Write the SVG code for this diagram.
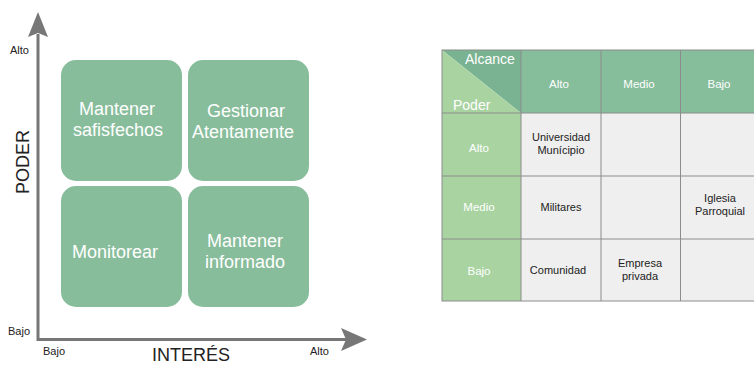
<svg xmlns="http://www.w3.org/2000/svg" width="754" height="365" viewBox="0 0 754 365">
<style>
.box{fill:#88bd9c}
.bt{fill:#ffffff;font-family:"Liberation Sans",Arial,sans-serif;font-size:18px;text-anchor:middle}
.ax{font-family:"Liberation Sans",Arial,sans-serif;font-size:11px;fill:#222}
.title{font-family:"Liberation Sans",Arial,sans-serif;font-size:18px;fill:#222}
.hdr{fill:#86bd9b}
.rh{fill:#a9d4a2}
.cell{fill:#efefef}
.grid{stroke:#8c8c8c;stroke-width:1;fill:none}
.ht{fill:#ffffff;font-family:"Liberation Sans",Arial,sans-serif;font-size:11.5px;text-anchor:middle}
.ct{fill:#222;font-family:"Liberation Sans",Arial,sans-serif;font-size:11px;text-anchor:middle}
.cr{fill:#ffffff;font-family:"Liberation Sans",Arial,sans-serif;font-size:14px}
</style>
<rect width="754" height="365" fill="#ffffff"/>

<g id="axes">
  <line x1="38" y1="34" x2="38" y2="341" stroke="#777" stroke-width="3"/>
  <polygon points="38,12 48,37 38,33 28,37" fill="#777"/>
  <line x1="37" y1="339.5" x2="346" y2="339.5" stroke="#777" stroke-width="3"/>
  <polygon points="367,339.5 341,328 346,339.5 341,351" fill="#777"/>
  <text class="ax" x="10" y="54">Alto</text>
  <text class="ax" x="8" y="335">Bajo</text>
  <text class="ax" x="43" y="355">Bajo</text>
  <text class="ax" x="310" y="355">Alto</text>
  <text class="title" x="152" y="360.5">INTERÉS</text>
  <text class="title" transform="translate(29,162) rotate(-90)" text-anchor="middle">PODER</text>
</g>

<g id="q-mantener-satisfechos">
  <rect class="box" x="61" y="60" width="121" height="121" rx="15"/>
  <text class="bt" x="117" y="115">Mantener</text>
  <text class="bt" x="118" y="136">safisfechos</text>
</g>
<g id="q-gestionar">
  <rect class="box" x="188" y="60" width="121" height="121" rx="15"/>
  <text class="bt" x="246" y="117">Gestionar</text>
  <text class="bt" x="243" y="138">Atentamente</text>
</g>
<g id="q-monitorear">
  <rect class="box" x="61" y="186" width="121" height="121" rx="15"/>
  <text class="bt" x="115" y="258">Monitorear</text>
</g>
<g id="q-mantener-informado">
  <rect class="box" x="188" y="186" width="121" height="121" rx="15"/>
  <text class="bt" x="245" y="247">Mantener</text>
  <text class="bt" x="245" y="268">informado</text>
</g>

<g id="table">
  <rect class="hdr" x="521" y="50" width="239" height="63"/>
  <rect class="rh" x="442" y="113" width="79" height="188"/>
  <rect class="cell" x="521" y="113" width="239" height="188"/>
  <polygon points="442,50 521,50 521,113" fill="#79b391"/>
  <polygon points="442,50 442,113 521,113" fill="#a9d4a2"/>
  <text class="cr" x="465" y="64">Alcance</text>
  <text class="cr" x="453" y="110">Poder</text>
  <g class="grid">
    <rect x="442" y="50" width="318" height="251"/>
    <line x1="521" y1="50" x2="521" y2="301"/>
    <line x1="601" y1="50" x2="601" y2="301"/>
    <line x1="680.5" y1="50" x2="680.5" y2="301"/>
    <line x1="442" y1="113" x2="760" y2="113"/>
    <line x1="442" y1="176" x2="760" y2="176"/>
    <line x1="442" y1="239" x2="760" y2="239"/>
  </g>
  <text class="ht" x="559" y="88">Alto</text>
  <text class="ht" x="639" y="88">Medio</text>
  <text class="ht" x="719" y="88">Bajo</text>
  <text class="ht" x="479" y="152">Alto</text>
  <text class="ht" x="479" y="211">Medio</text>
  <text class="ht" x="479" y="275">Bajo</text>
  <text class="ct" x="561" y="141">Universidad</text>
  <text class="ct" x="561" y="154">Munícipio</text>
  <text class="ct" x="561" y="211">Militares</text>
  <text class="ct" x="720" y="202">Iglesia</text>
  <text class="ct" x="720" y="215">Parroquial</text>
  <text class="ct" x="558" y="274">Comunidad</text>
  <text class="ct" x="640" y="267">Empresa</text>
  <text class="ct" x="640" y="280">privada</text>
</g>
</svg>
